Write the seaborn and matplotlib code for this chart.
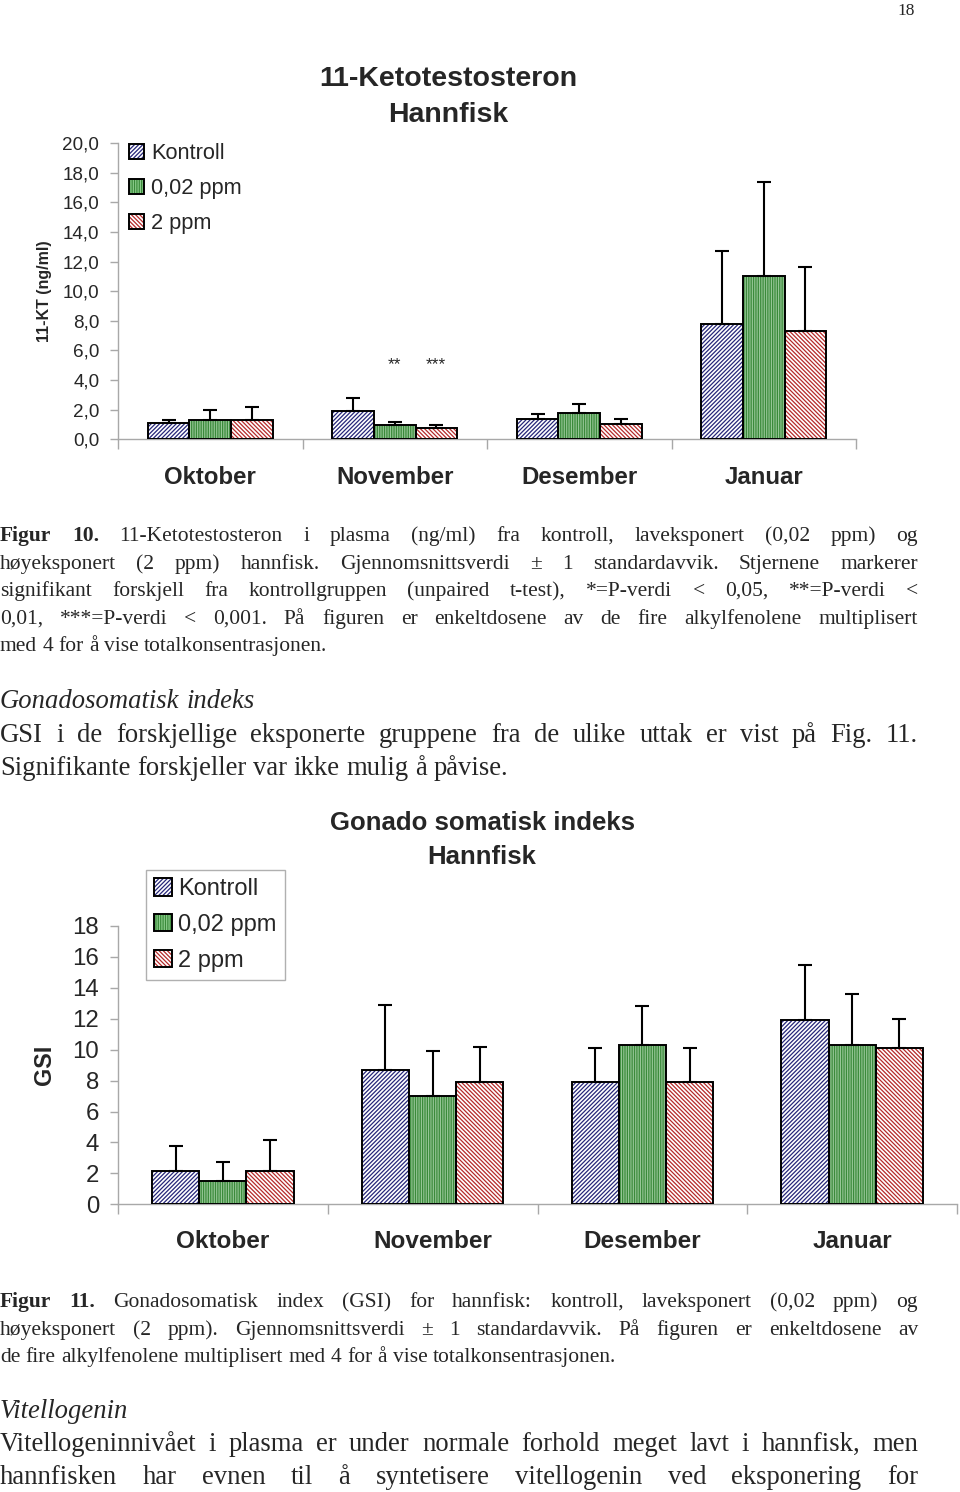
import numpy as np
import pandas as pd
import seaborn as sns
import matplotlib
matplotlib.use("Agg")
import matplotlib.pyplot as plt
from matplotlib.patches import Patch, Rectangle

# ---------------- data ----------------
months = ["Oktober", "November", "Desember", "Januar"]
groups = ["Kontroll", "0,02 ppm", "2 ppm"]

kt_kontroll = [1.1, 1.9, 1.4, 7.8]
kt_kontroll_sd = [0.2, 0.9, 0.3, 4.9]
kt_002 = [1.3, 0.95, 1.8, 11.0]
kt_002_sd = [0.7, 0.2, 0.6, 6.4]
kt_2 = [1.3, 0.75, 1.05, 7.3]
kt_2_sd = [0.9, 0.2, 0.3, 4.3]
kt_stars_002 = ["", "**", "", ""]
kt_stars_2 = ["", "***", "", ""]

gsi_kontroll = [2.15, 8.7, 7.9, 11.9]
gsi_kontroll_sd = [1.6, 4.2, 2.2, 3.6]
gsi_002 = [1.5, 7.0, 10.3, 10.3]
gsi_002_sd = [1.25, 2.9, 2.55, 3.3]
gsi_2 = [2.15, 7.9, 7.9, 10.1]
gsi_2_sd = [2.0, 2.3, 2.2, 1.9]

kt_yticks = [0, 2, 4, 6, 8, 10, 12, 14, 16, 18, 20]
kt_yticklabels = ["0,0", "2,0", "4,0", "6,0", "8,0", "10,0", "12,0", "14,0", "16,0", "18,0", "20,0"]
gsi_yticks = [0, 2, 4, 6, 8, 10, 12, 14, 16, 18]
gsi_yticklabels = ["0", "2", "4", "6", "8", "10", "12", "14", "16", "18"]

kt_title = ["11-Ketotestosteron", "Hannfisk"]
kt_ylabel = "11-KT (ng/ml)"
gsi_title = ["Gonado somatisk indeks", "Hannfisk"]
gsi_ylabel = "GSI"

page_number = "18"
fig10_lines = [
    "Figur 10. 11-Ketotestosteron i plasma (ng/ml) fra kontroll, laveksponert (0,02 ppm) og",
    "høyeksponert (2 ppm) hannfisk. Gjennomsnittsverdi ± 1 standardavvik. Stjernene markerer",
    "signifikant forskjell fra kontrollgruppen (unpaired t-test), *=P-verdi < 0,05, **=P-verdi <",
    "0,01, ***=P-verdi < 0,001. På figuren er enkeltdosene av de fire alkylfenolene multiplisert",
    "med 4 for å vise totalkonsentrasjonen.",
]
gsi_heading = "Gonadosomatisk indeks"
gsi_body = [
    "GSI i de forskjellige eksponerte gruppene fra de ulike uttak er vist på Fig. 11.",
    "Signifikante forskjeller var ikke mulig å påvise.",
]
fig11_lines = [
    "Figur 11. Gonadosomatisk index (GSI) for hannfisk: kontroll, laveksponert (0,02 ppm) og",
    "høyeksponert (2 ppm). Gjennomsnittsverdi ± 1 standardavvik. På figuren er enkeltdosene av",
    "de fire alkylfenolene multiplisert med 4 for å vise totalkonsentrasjonen.",
]
vit_heading = "Vitellogenin"
vit_body = [
    "Vitellogeninnivået i plasma er under normale forhold meget lavt i hannfisk, men",
    "hannfisken har evnen til å syntetisere vitellogenin ved eksponering for",
]

# ---------------- style ----------------
W, H = 960, 1492
sns.set_style("white")
plt.rcParams["font.family"] = ["Liberation Sans", "DejaVu Sans"]
plt.rcParams["hatch.linewidth"] = 0.9

GRAY = "#a8a8a8"
style = {
    "Kontroll": dict(face="#ffffff", hatch="/" * 8, hc="#26267a"),
    "0,02 ppm": dict(face="#8fcf8f", hatch="|" * 7, hc="#3a8a3a"),
    "2 ppm": dict(face="#ffffff", hatch="\\" * 8, hc="#b52a2a"),
}

fig = plt.figure(figsize=(W / 100, H / 100), dpi=100)
fig.patch.set_facecolor("white")


def fx(x):
    return x / W


def fy(y):
    return 1 - y / H


def axes_px(left, right, top, bottom):
    return fig.add_axes([fx(left), fy(bottom), (right - left) / W, (bottom - top) / H])


def draw_chart(ax, means, sds, ymax, yticks, yticklabels, tick_fs, cat_fs, cat_pad):
    rows = []
    for g in groups:
        for m, v in zip(months, means[g]):
            rows.append({"month": m, "group": g, "value": v})
    df = pd.DataFrame(rows)
    sns.barplot(data=df, x="month", y="value", hue="group", order=months,
                hue_order=groups, palette=[style[g]["face"] for g in groups],
                width=0.675, errorbar=None, linewidth=0, legend=False, ax=ax,
                zorder=2)
    centers = {}
    for cont, g in zip(ax.containers, groups):
        st = style[g]
        centers[g] = []
        for bar, sd in zip(cont, sds[g]):
            bar.set_hatch(st["hatch"])
            bar.set_edgecolor(st["hc"])
            bar.set_linewidth(0)
            x0, w, h = bar.get_x(), bar.get_width(), bar.get_height()
            ax.add_patch(Rectangle((x0, 0), w, h, fill=False, ec="black",
                                   lw=1.4, zorder=3))
            ax.errorbar(x0 + w / 2, h, yerr=[[0], [sd]], fmt="none",
                        ecolor="black", elinewidth=1.5, capsize=4.7,
                        capthick=1.5, zorder=4)
            centers[g].append(x0 + w / 2)
    ax.set_xlim(-0.5, 3.5)
    ax.set_ylim(0, ymax)
    ax.set_yticks(yticks)
    ax.set_yticklabels(yticklabels, fontsize=tick_fs)
    ax.set_xticks(range(len(months)))
    ax.set_xticklabels(months, fontsize=cat_fs, fontweight="bold")
    ax.set_xticks(np.arange(-0.5, len(months), 1), minor=True)
    ax.set_xlabel("")
    ax.set_ylabel("")
    ax.tick_params(axis="x", which="major", bottom=True, length=0, pad=cat_pad)
    ax.tick_params(axis="x", which="minor", bottom=True, length=7, width=1,
                   color=GRAY, direction="out")
    ax.tick_params(axis="y", which="major", left=True, length=6, width=1,
                   color=GRAY, direction="out", pad=7.5)
    for s in ["top", "right"]:
        ax.spines[s].set_visible(False)
    for s in ["left", "bottom"]:
        ax.spines[s].set_color(GRAY)
        ax.spines[s].set_linewidth(1)
    ax.set_facecolor("none")
    return centers


def legend_handles():
    hs = []
    for g in groups:
        st = style[g]
        hs.append((Patch(facecolor=st["face"], hatch=st["hatch"], edgecolor=st["hc"], lw=0),
                   Patch(fill=False, edgecolor="black", lw=1.4)))
    return hs


# ---------------- chart 1 ----------------
ax1 = axes_px(118, 856, 143, 439.3)
c1 = draw_chart(ax1,
                {"Kontroll": kt_kontroll, "0,02 ppm": kt_002, "2 ppm": kt_2},
                {"Kontroll": kt_kontroll_sd, "0,02 ppm": kt_002_sd, "2 ppm": kt_2_sd},
                20, kt_yticks, kt_yticklabels, 13.6, 17.3, 19)
for g, stars in [("0,02 ppm", kt_stars_002), ("2 ppm", kt_stars_2)]:
    for xc, s in zip(c1[g], stars):
        if s:
            ax1.text(xc, 4.75, s, ha="center", va="baseline", fontsize=12.5)
fig.text(fx(448), fy(79), kt_title[0], ha="center", va="center",
         fontsize=20.5, fontweight="bold")
fig.text(fx(448), fy(115), kt_title[1], ha="center", va="center",
         fontsize=20.5, fontweight="bold")
fig.text(fx(45), fy(291), kt_ylabel, ha="center", va="center", rotation=90,
         fontsize=11.5, fontweight="bold")
fig.legend(legend_handles(), groups, loc="upper left",
           bbox_to_anchor=(fx(129), fy(143)), frameon=False, borderpad=0,
           borderaxespad=0, handlelength=0.7, handleheight=0.7,
           handletextpad=0.3, labelspacing=0.65, fontsize=15.7)

# ---------------- chart 2 ----------------
ax2 = axes_px(118, 957, 926, 1204.3)
draw_chart(ax2,
           {"Kontroll": gsi_kontroll, "0,02 ppm": gsi_002, "2 ppm": gsi_2},
           {"Kontroll": gsi_kontroll_sd, "0,02 ppm": gsi_002_sd, "2 ppm": gsi_2_sd},
           18, gsi_yticks, gsi_yticklabels, 17.3, 17.5, 18.5)
fig.text(fx(482), fy(823), gsi_title[0], ha="center", va="center",
         fontsize=18.5, fontweight="bold")
fig.text(fx(482), fy(857), gsi_title[1], ha="center", va="center",
         fontsize=18.5, fontweight="bold")
fig.text(fx(45), fy(1065), gsi_ylabel, ha="center", va="center", rotation=90,
         fontsize=16.8, fontweight="bold")
lg2 = fig.legend(legend_handles(), groups, loc="upper left",
                 bbox_to_anchor=(fx(146), fy(870)), frameon=True, fancybox=False,
                 edgecolor="#b0b0b0", framealpha=1, borderpad=0.35,
                 borderaxespad=0, handlelength=0.75, handleheight=0.75,
                 handletextpad=0.25, labelspacing=0.58, fontsize=17)
lg2.get_frame().set_linewidth(1)

# ---------------- text ----------------
renderer = fig.canvas.get_renderer()
SERIF = ["Liberation Serif", "DejaVu Serif"]


def measure(s, size, weight="normal", fstyle="normal"):
    t = fig.text(0, 0, s, fontsize=size, family=SERIF, weight=weight, style=fstyle)
    w = t.get_window_extent(renderer=renderer).width
    t.remove()
    return w


def space_w(size, fstyle="normal"):
    return measure("a a", size, fstyle=fstyle) - measure("aa", size, fstyle=fstyle)


def natural(line, size, nbold, fstyle):
    words = line.split(" ")
    tot = sum(measure(w, size, "bold" if i < nbold else "normal", fstyle)
              for i, w in enumerate(words))
    return tot + space_w(size, fstyle) * (len(words) - 1)


def fit_size(lines, base, nbold, fstyle="normal", target=914):
    mx = max(natural(l, base, nbold if i == 0 else 0, fstyle) for i, l in enumerate(lines))
    return min(base, base * target / mx)


def place(line, y, size, justify, nbold=0, fstyle="normal", x0=0, x1=918):
    words = line.split(" ")
    ws = [measure(w, size, "bold" if i < nbold else "normal", fstyle)
          for i, w in enumerate(words)]
    if justify and len(words) > 1:
        gap = (x1 - x0 - sum(ws)) / (len(words) - 1)
    else:
        gap = space_w(size, fstyle)
    x = x0
    for i, (w, wd) in enumerate(zip(words, ws)):
        fig.text(fx(x), fy(y), w, fontsize=size, family=SERIF,
                 weight="bold" if i < nbold else "normal", style=fstyle,
                 ha="left", va="baseline")
        x += wd + gap


def paragraph(lines, ys, size, njust, nbold=0, fstyle="normal"):
    for i, (l, y) in enumerate(zip(lines, ys)):
        place(l, y, size, i < njust, nbold if i == 0 else 0, fstyle)


fig.text(fx(906), fy(15), page_number, fontsize=12.5, family=SERIF,
         ha="center", va="baseline")

cap_size = fit_size([fig10_lines[0]] + fig10_lines[1:4], 15.5, 2)
cap_size = min(cap_size, fit_size(fig11_lines[:2], 15.5, 2))
paragraph(fig10_lines, [541, 569, 596, 624, 651], cap_size, 4, nbold=2)
paragraph(fig11_lines, [1307, 1335, 1362], cap_size, 2, nbold=2)

body_size = fit_size(gsi_body[:1] + vit_body, 19.2, 0)
place(gsi_heading, 708, body_size, False, fstyle="italic")
paragraph(gsi_body, [742, 775], body_size, 1)
place(vit_heading, 1418, body_size, False, fstyle="italic")
paragraph(vit_body, [1451, 1484], body_size, 2)

fig.savefig("out.png", dpi=100, facecolor="white")
